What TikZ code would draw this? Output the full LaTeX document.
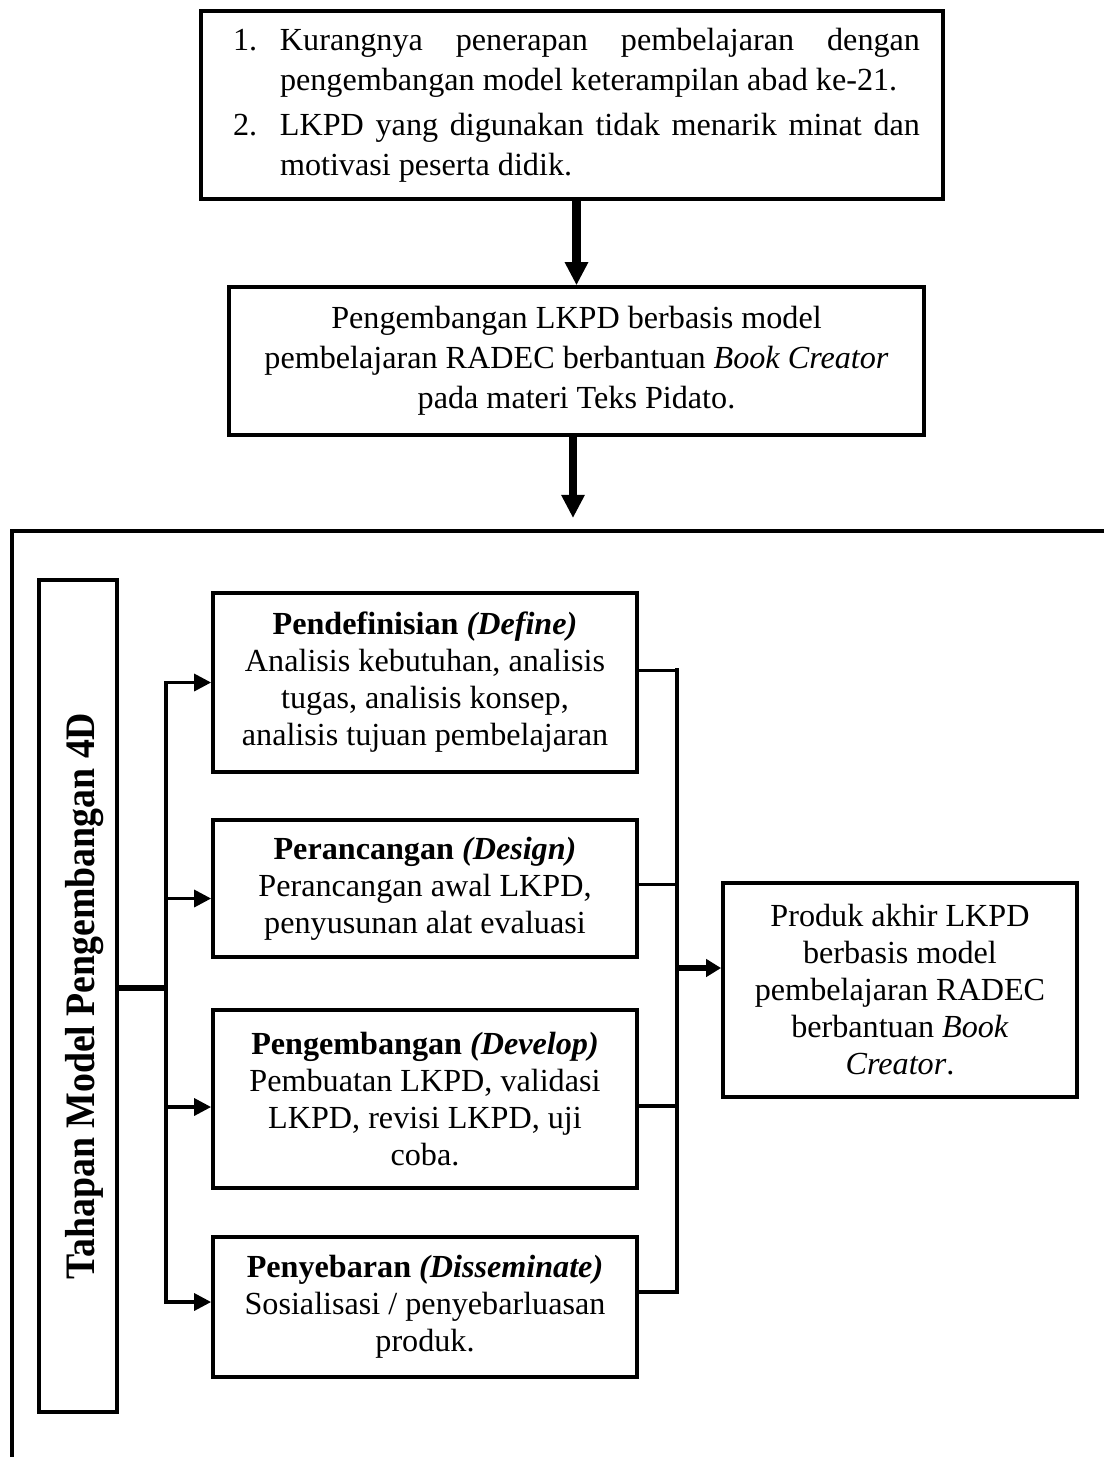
\documentclass[tikz,border=0pt]{standalone}
\usepackage{fontspec}
\setmainfont{Liberation Serif}
\usepackage{tikz}
\usetikzlibrary{arrows.meta, positioning, calc}
\newlength{\px}
\setlength{\px}{0.3731pt}

\begin{document}
\begin{tikzpicture}[
    x=\px, y=-\px,
    kotak/.style={draw, line width=1.3pt, inner sep=0pt, font=\fontsize{12pt}{13.8pt}\selectfont},
    tengah/.style={kotak, align=center},
    tahap/.style={tengah, line width=1.4pt, minimum width=424\px},
    panah/.style={line width=3pt, -{Triangle[length=8.6pt, width=8.2pt]}},
    cabang/.style={line width=1.25pt, -{Triangle[length=6.3pt, width=6.3pt]}},
    bus/.style={line width=1.4pt, line cap=rect}
]
    \useasboundingbox (0,0) rectangle (1104,1457);

    % Top boxes
    \node[kotak, minimum width=742\px, minimum height=188\px, font=\fontsize{12pt}{15pt}\selectfont] (masalah) at (572,105) {%
        \hspace*{9\px}\parbox{687\px}{%
        \tolerance=10000 \hyphenpenalty=10000 \leftskip=47\px \parskip=1.8pt
        \noindent\llap{\makebox[47\px][l]{1.}}Kurangnya penerapan pembelajaran dengan\linebreak pengembangan model keterampilan abad ke-21.\par
        \noindent\llap{\makebox[47\px][l]{2.}}LKPD yang digunakan tidak menarik minat dan\linebreak motivasi peserta didik.}};
    \node[tengah, minimum width=695\px, minimum height=148\px, font=\fontsize{12pt}{14.9pt}\selectfont] (solusi) at (576.5,361) {Pengembangan LKPD berbasis model\\ pembelajaran RADEC berbantuan \textit{Book Creator}\\ pada materi Teks Pidato.};

    % Frame
    \draw[line width=1.7pt] (1104,531) -| (12,1457);
    \coordinate (bingkai) at (573,518);

    \draw[panah] (solusi.north |- masalah.south) -- (solusi.north);
    \draw[panah] (solusi.south -| bingkai) -- (bingkai);

    % Label
    \node[kotak, minimum width=78\px, minimum height=832\px] (tahapan) at (78,996) {};
    \node[font=\fontsize{14.1pt}{15pt}\selectfont\bfseries, xshift=7\px, inner sep=0pt] (tahapanteks) at (tahapan.center) {\rotatebox{90}{\scalebox{1}[1.11]{Tahapan Model Pengembangan 4D}}};

    % Stages
    \node[tahap, minimum height=179\px] (definisi) at (425,682.5) {\textbf{Pendefinisian \textit{(Define)}}\\ Analisis kebutuhan, analisis\\ tugas, analisis konsep,\\ analisis tujuan pembelajaran};
    \node[tahap, minimum height=137\px] (rancang) at (425,888.5) {\textbf{Perancangan \textit{(Design)}}\\ Perancangan awal LKPD,\\ penyusunan alat evaluasi};
    \node[tahap, minimum height=178\px] (kembang) at (425,1099) {\textbf{Pengembangan \textit{(Develop)}}\\ Pembuatan LKPD, validasi\\ LKPD, revisi LKPD, uji\\ coba.};
    \node[tahap, minimum height=140\px] (sebar) at (425,1307) {\textbf{Penyebaran \textit{(Disseminate)}}\\ Sosialisasi / penyebarluasan\\ produk.};

    % Product
    \node[tengah, line width=1.4pt, minimum width=354\px, minimum height=214\px] (produk) at (900,990) {Produk akhir LKPD\\ berbasis model\\ pembelajaran RADEC\\ berbantuan \textit{Book}\\ \textit{Creator}.};

    % Left branches
    \coordinate (bagi) at (166,988);
    \draw[line width=1.9pt] (bagi -| tahapan.east) -- (bagi);
    \draw[bus, line width=1.25pt] (bagi |- definisi.west) -- ([yshift=5\px]bagi |- sebar.west);
    \foreach \t/\dy in {definisi/0, rancang/-10, kembang/-8, sebar/5}
        \draw[cabang] ([yshift=\dy\px]bagi |- \t.west) -- ([yshift=\dy\px]\t.west);

    % Right branches
    \coordinate (gabung) at (677,968);
    \foreach \t/\dy in {definisi/12, rancang/4, kembang/-7, sebar/15}
        \draw[bus] ([yshift=\dy\px]\t.east) -- ([yshift=\dy\px]\t.east -| gabung);
    \draw[bus, line width=1.6pt] ([yshift=12\px]gabung |- definisi.east) -- ([yshift=15\px]gabung |- sebar.east);
    \draw[line width=2.2pt, -{Triangle[length=5.6pt, width=6.4pt]}] (gabung) -- (gabung -| produk.west);
\end{tikzpicture}
\end{document}
